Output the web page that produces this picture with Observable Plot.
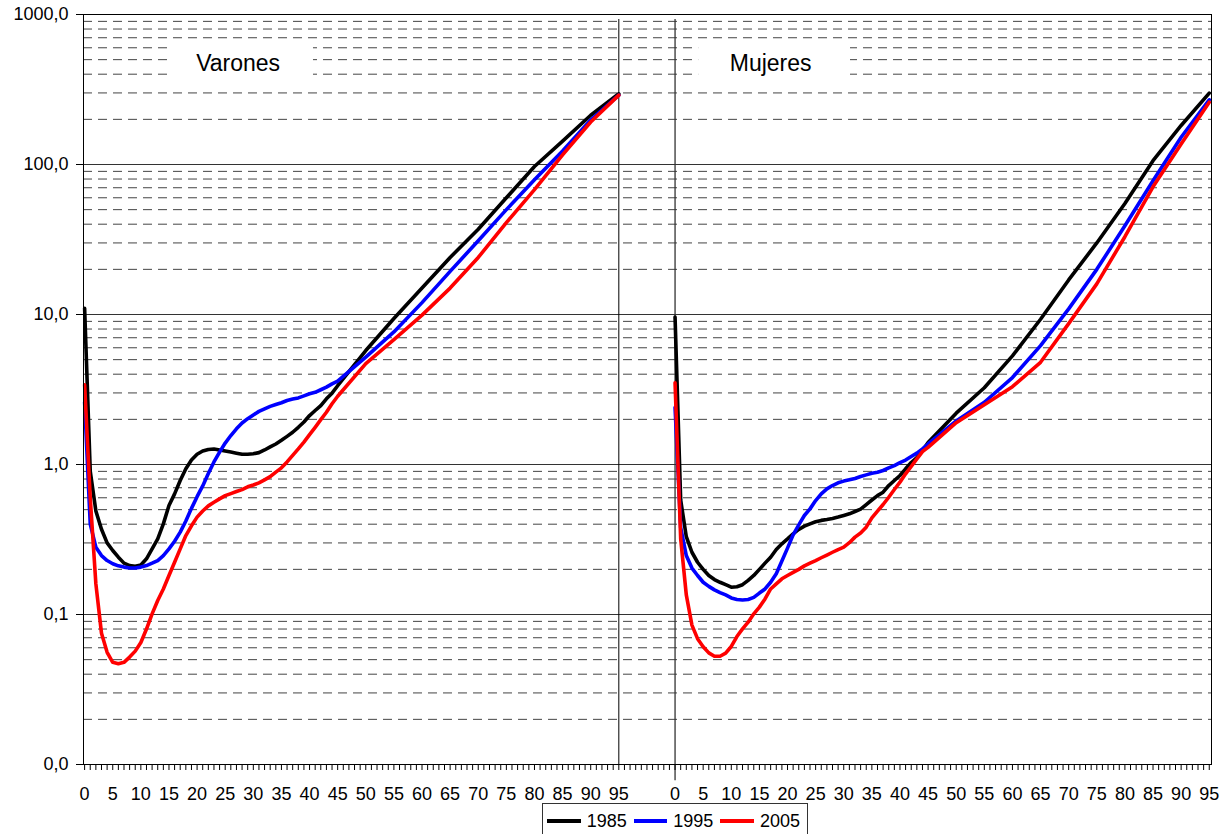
<!DOCTYPE html>
<html>
<head>
<meta charset="utf-8">
<script src="https://cdn.jsdelivr.net/npm/d3@7"></script>
<script src="https://cdn.jsdelivr.net/npm/@observablehq/plot@0.6"></script>
<style>
  body { margin: 0; background: #fff; font-family: "Liberation Sans", Arial, sans-serif; }
  #chart svg { display: block; }
  #legend { margin-left: 542px; width: 260px; height: 34px; border: 1px solid #333; border-bottom: none;
            display: flex; align-items: center; padding-left: 4px; font-size: 18px; color: #000; }
  #legend .sw { display: inline-block; width: 34px; height: 4px; margin-right: 6px; }
  #legend .lb { margin-right: 7px; }
</style>
</head>
<body>
<div id="chart"></div>
<div id="legend"></div>
<script>
// ---- data ----
const ages = [0,1,2,3,4,5,6,7,8,9,10,11,12,13,14,15,16,17,18,19,20,21,22,23,24,25,26,27,28,29,30,
  31,32,33,34,35,36,37,38,39,40,41,42,43,44,45,50,55,60,65,70,75,80,85,90,95];
const years = ["1985", "1995", "2005"];
const panels = ["Varones", "Mujeres"];
const panelOffset = [0, 105];

const varones1985 = [11, 0.9, 0.49, 0.37, 0.30, 0.267, 0.241, 0.22, 0.212, 0.21, 0.214, 0.235, 0.274, 0.319, 0.402,
  0.533, 0.637, 0.782, 0.936, 1.07, 1.17, 1.23, 1.26, 1.27, 1.25, 1.23, 1.21, 1.19, 1.17, 1.17, 1.18, 1.2, 1.25,
  1.31, 1.37, 1.45, 1.54, 1.64, 1.77, 1.92, 2.12, 2.29, 2.47, 2.74, 2.99, 3.35, 5.75, 9.4, 15, 24, 37, 60, 97, 143, 213, 296];
const varones1995 = [2.6, 0.40, 0.281, 0.247, 0.229, 0.218, 0.211, 0.207, 0.204, 0.204, 0.207, 0.212, 0.22, 0.229, 0.247,
  0.274, 0.308, 0.354, 0.42, 0.51, 0.61, 0.72, 0.87, 1.04, 1.21, 1.39, 1.56, 1.73, 1.89, 2.02, 2.14, 2.26, 2.35,
  2.44, 2.51, 2.58, 2.67, 2.73, 2.78, 2.87, 2.96, 3.03, 3.15, 3.28, 3.45, 3.6, 5.2, 7.65, 12, 19.4, 31, 50, 79, 123, 198, 290];
const varones2005 = [3.4, 0.6, 0.16, 0.075, 0.056, 0.048, 0.047, 0.048, 0.052, 0.057, 0.065, 0.08, 0.101, 0.124, 0.148,
  0.182, 0.223, 0.274, 0.336, 0.39, 0.446, 0.49, 0.53, 0.56, 0.59, 0.62, 0.64, 0.66, 0.68, 0.71, 0.73, 0.755, 0.79,
  0.83, 0.89, 0.95, 1.04, 1.15, 1.27, 1.41, 1.58, 1.77, 1.99, 2.23, 2.54, 2.85, 4.7, 6.8, 9.9, 15, 24, 41, 68, 116, 192, 290];
const mujeres1985 = [9.6, 0.58, 0.33, 0.26, 0.223, 0.2, 0.182, 0.171, 0.164, 0.158, 0.152, 0.153, 0.158, 0.169, 0.182,
  0.2, 0.22, 0.241, 0.271, 0.296, 0.319, 0.345, 0.369, 0.388, 0.402, 0.415, 0.424, 0.43, 0.437, 0.446, 0.457, 0.469,
  0.486, 0.504, 0.541, 0.58, 0.62, 0.654, 0.724, 0.782, 0.845, 0.936, 1.03, 1.11, 1.24, 1.4, 2.2, 3.25, 5.3, 9.3, 17, 30, 55, 106, 182, 299];
const mujeres1995 = [2.4, 0.38, 0.247, 0.204, 0.182, 0.164, 0.154, 0.146, 0.14, 0.135, 0.129, 0.126, 0.125, 0.126, 0.13,
  0.139, 0.148, 0.164, 0.187, 0.227, 0.277, 0.34, 0.396, 0.457, 0.506, 0.575, 0.637, 0.688, 0.724, 0.755, 0.775, 0.79,
  0.807, 0.832, 0.853, 0.875, 0.889, 0.912, 0.95, 0.984, 1.03, 1.07, 1.13, 1.19, 1.27, 1.37, 1.95, 2.6, 3.8, 6.2, 10.9, 20, 39, 78, 152, 270];
const mujeres2005 = [3.5, 0.32, 0.135, 0.085, 0.069, 0.061, 0.0555, 0.0527, 0.0527, 0.0552, 0.0612, 0.0713, 0.0802, 0.0889, 0.101,
  0.112, 0.127, 0.148, 0.16, 0.173, 0.182, 0.191, 0.2, 0.211, 0.22, 0.229, 0.239, 0.249, 0.26, 0.271, 0.281, 0.301,
  0.328, 0.349, 0.382, 0.441, 0.489, 0.541, 0.605, 0.681, 0.762, 0.867, 0.97, 1.09, 1.22, 1.3, 1.9, 2.5, 3.3, 4.8, 8.7, 16, 33, 71, 137, 260];

const yTicks = [0.01, 0.1, 1, 10, 100, 1000];
const yMinor = [2,3,4,5,6,7,8,9].flatMap(m => [0.01, 0.1, 1, 10, 100].map(d => m * d));
const xLabelAges = [0,5,10,15,20,25,30,35,40,45,50,55,60,65,70,75,80,85,90,95];
const colors = ["#000000", "#0000ff", "#ff0000"];

// ---- build table ----
const seriesList = [
  {panel: 0, year: "1985", values: varones1985},
  {panel: 1, year: "1985", values: mujeres1985},
  {panel: 0, year: "1995", values: varones1995},
  {panel: 1, year: "1995", values: mujeres1995},
  {panel: 0, year: "2005", values: varones2005},
  {panel: 1, year: "2005", values: mujeres2005}
];
const rows = seriesList.flatMap(s => ages.map((a, i) => ({
  idx: a + panelOffset[s.panel], v: s.values[i], year: s.year, key: s.panel + "-" + s.year
})));

const maxAge = 95;
const allIdx = d3.range(0, panelOffset[1] + maxAge + 1);
const labelIdx = panelOffset.flatMap(o => xLabelAges.map(a => a + o));
const fmtX = i => String(i >= panelOffset[1] ? i - panelOffset[1] : i);
const fmtY = d => d.toFixed(1).replace(".", ",");

const labelBoxes = [
  {text: panels[0], x1: 14.8, x2: 40.7, xc: 27.3},
  {text: panels[1], x1: panelOffset[1] + 4.2, x2: panelOffset[1] + 31.2, xc: panelOffset[1] + 17.0}
];

const font = "Liberation Sans, Arial, sans-serif";

const chart = Plot.plot({
  width: 1228,
  height: 803,
  marginTop: 14,
  marginBottom: 39,
  marginLeft: 83,
  marginRight: 17,
  style: {fontFamily: font, fontSize: "18px", color: "#000", background: "#fff"},
  x: {type: "linear", domain: [-0.2, 200.4]},
  y: {type: "log", domain: [0.01, 1000]},
  color: {domain: years, range: colors},
  marks: [
    Plot.ruleY(yMinor, {stroke: "#444", strokeWidth: 1, strokeDasharray: "9,6"}),
    Plot.ruleY(yTicks, {stroke: "#333", strokeWidth: 1}),
    Plot.rect(labelBoxes, {x1: "x1", x2: "x2", y1: 321, y2: 671, fill: "#fff"}),
    Plot.text(labelBoxes, {x: "xc", y: 471, text: "text", fontSize: 23, fill: "#000", textAnchor: "middle"}),
    Plot.ruleX([panelOffset[0] + maxAge], {y1: 0.01, y2: 926, stroke: "#000", strokeWidth: 1}),
    Plot.ruleX([panelOffset[1]], {y1: 0.0078, y2: 926, stroke: "#333", strokeWidth: 1.3}),
    Plot.line(rows, {x: "idx", y: "v", z: "key", stroke: "year", strokeWidth: 3.6, strokeLinejoin: "round", strokeLinecap: "round"}),
    Plot.frame({stroke: "#000", strokeWidth: 1}),
    Plot.axisY({ticks: yTicks, tickSize: 7, tickPadding: 8, tickFormat: fmtY, label: null, fontSize: 18, stroke: "#000"}),
    Plot.axisX({ticks: allIdx, tickSize: 6, tickFormat: () => "", label: null, stroke: "#000"}),
    Plot.axisX({ticks: labelIdx, tickSize: 0, tickPadding: 23, tickFormat: fmtX, label: null, fontSize: 18})
  ]
});
document.getElementById("chart").appendChild(chart);

// ---- legend ----
const legend = document.getElementById("legend");
years.forEach((y, i) => {
  const sw = document.createElement("span");
  sw.className = "sw";
  sw.style.background = colors[i];
  const lb = document.createElement("span");
  lb.className = "lb";
  lb.textContent = y;
  legend.appendChild(sw);
  legend.appendChild(lb);
});
</script>
</body>
</html>
